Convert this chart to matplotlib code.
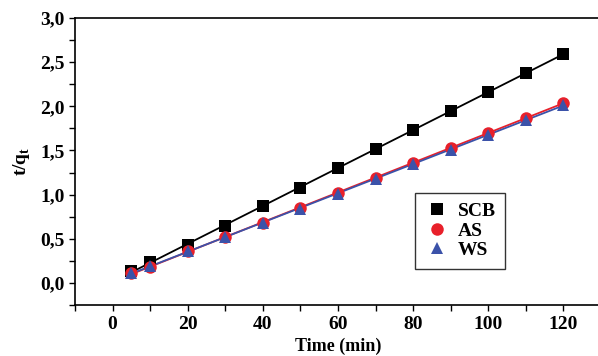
import numpy as np
import matplotlib
matplotlib.use('Agg')
import matplotlib.pyplot as plt
from matplotlib.ticker import FuncFormatter, MultipleLocator

time = [5, 10, 20, 30, 40, 50, 60, 70, 80, 90, 100, 110, 120]
scb = [0.13, 0.24, 0.43, 0.65, 0.87, 1.08, 1.30, 1.52, 1.73, 1.95, 2.16, 2.38, 2.59]
as_ = [0.11, 0.18, 0.36, 0.52, 0.68, 0.85, 1.02, 1.19, 1.36, 1.53, 1.70, 1.87, 2.04]
ws = [0.11, 0.19, 0.36, 0.52, 0.68, 0.84, 1.01, 1.18, 1.35, 1.51, 1.68, 1.85, 2.01]

plt.rcParams['font.family'] = ['Liberation Serif', 'DejaVu Serif']
plt.rcParams['font.weight'] = 'bold'
plt.rcParams['mathtext.fontset'] = 'custom'
plt.rcParams['mathtext.bf'] = 'Liberation Serif:bold'

fig = plt.figure(figsize=(5.98, 3.56), dpi=100)
ax = fig.add_axes([75/598, 1 - 305/356, 526/598, 287/356])

t = np.array(time, dtype=float)
series = [(scb, 's', 'black', 'SCB', 8),
          (as_, 'o', '#e8202a', 'AS', 9),
          (ws, '^', '#3b52a9', 'WS', 9)]
for vals, mk, col, lab, ms in series:
    k, b = np.polyfit(t, vals, 1)
    ax.plot(t, k * t + b, color=col, lw=1.3)
for vals, mk, col, lab, ms in series:
    ax.plot(t, vals, linestyle='none', marker=mk, color=col, ms=ms, mew=0, label=lab)

ax.set_xlim(-10, 130)
ax.set_ylim(-0.25, 3.0)
ax.xaxis.set_major_locator(MultipleLocator(20))
ax.xaxis.set_minor_locator(MultipleLocator(10))
ax.yaxis.set_major_locator(MultipleLocator(0.5))
ax.yaxis.set_minor_locator(MultipleLocator(0.25))
ax.yaxis.set_major_formatter(FuncFormatter(lambda v, p: f'{v:.1f}'.replace('.', ',')))
ax.tick_params(which='both', direction='out', labelsize=14, width=1, length=4)
ax.tick_params(axis='x', pad=4)
for s in ax.spines.values():
    s.set_linewidth(1.2)

ax.set_xlabel('Time (min)', fontsize=13, fontweight='bold', labelpad=3)
ax.set_ylabel(r't/q$_\mathbf{t}$', fontsize=14, fontweight='bold', labelpad=6)

leg = ax.legend(loc='upper left', bbox_to_anchor=((405 - 75) / 526, (305 - 183) / 287),
                frameon=True, fancybox=False, edgecolor='black', fontsize=14,
                borderpad=0.5, handletextpad=0.4, labelspacing=0.1,
                handlelength=1.3)
leg.get_frame().set_linewidth(1.0)
for txt in leg.get_texts():
    txt.set_fontweight('bold')

fig.savefig('out.png', dpi=100)
